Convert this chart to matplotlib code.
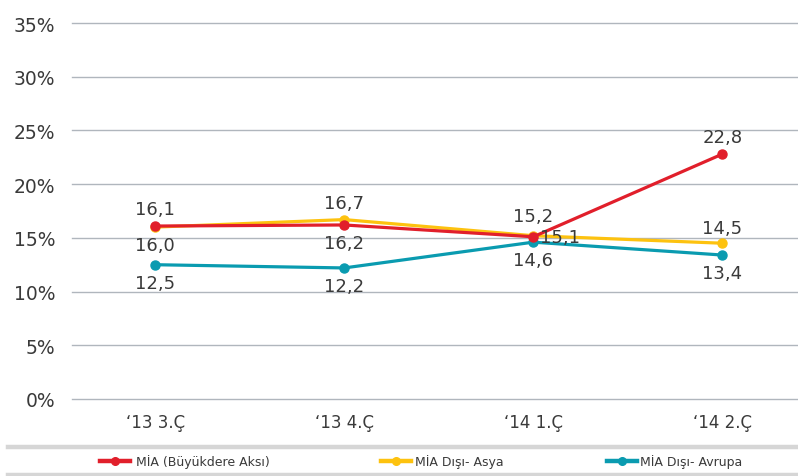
import matplotlib.pyplot as plt
from matplotlib.lines import Line2D
import numpy as np

quarters = ["\u201813 3.Ç", "\u201813 4.Ç", "\u201814 1.Ç", "\u201814 2.Ç"]
mia = [16.1, 16.2, 15.1, 22.8]
asya = [16.0, 16.7, 15.2, 14.5]
avrupa = [12.5, 12.2, 14.6, 13.4]
names = ["MİA (Büyükdere Aksı)", "MİA Dışı- Asya", "MİA Dışı- Avrupa"]

colors = ["#e11f2b", "#fdc20f", "#0a9bb0"]
text_c = "#3a3a3a"

fig = plt.figure(figsize=(7.98, 4.77), dpi=100)
ax = fig.add_axes([72 / 798, 77 / 477, 726 / 798, 376 / 477])

x = np.arange(len(quarters))
series = [mia, asya, avrupa]
# label offsets in points (dx, dy) for each series / quarter
offsets = [
    [(0, 12), (0, -13), (19, 0), (0, 12)],
    [(0, -13), (0, 12), (0, 14), (0, 11)],
    [(0, -13), (0, -13), (0, -13), (0, -13)],
]

for k in [2, 1, 0]:
    ax.plot(x, series[k], "-o", color=colors[k], lw=2.3, ms=6.5, zorder=3 + (2 - k))
    for i, v in enumerate(series[k]):
        dx, dy = offsets[k][i]
        ax.annotate(f"{v:.1f}".replace(".", ","), (x[i], v), xytext=(dx, dy),
                    textcoords="offset points", ha="center", va="center",
                    fontsize=13, color=text_c, zorder=10)

ax.set_ylim(0, 35)
ax.set_xlim(-0.44, 3.4)
ax.set_yticks(range(0, 36, 5))
ax.set_yticklabels([f"{t}%" for t in range(0, 36, 5)])
ax.set_xticks(x)
ax.set_xticklabels(quarters)
ax.grid(axis="y", color="#b0b6bd", lw=1.0)
ax.set_axisbelow(True)
for gl in ax.get_ygridlines():
    gl.set_clip_on(False)
for s in ax.spines.values():
    s.set_visible(False)
ax.tick_params(axis="y", length=0, pad=12, labelsize=13.5, labelcolor=text_c)
ax.tick_params(axis="x", length=0, pad=10, labelsize=12, labelcolor=text_c)

# legend strip
for yb in [447.5 / 477, 475.5 / 477]:
    fig.add_artist(Line2D([8 / 798, 1], [1 - yb, 1 - yb], color="#d6d6d6", lw=3.2))
ly = 1 - 462 / 477
for (hx, tx), c, n in zip([(100, 136), (381, 415), (607, 640)], colors, names):
    fig.add_artist(Line2D([hx / 798, (hx + 30) / 798], [ly, ly], color=c, lw=3.2))
    fig.add_artist(Line2D([(hx + 15) / 798], [ly], color=c, marker="o", ms=5.5))
    fig.text(tx / 798, ly, n, fontsize=9, color=text_c, va="center", ha="left")

fig.savefig("out.png", dpi=100)
